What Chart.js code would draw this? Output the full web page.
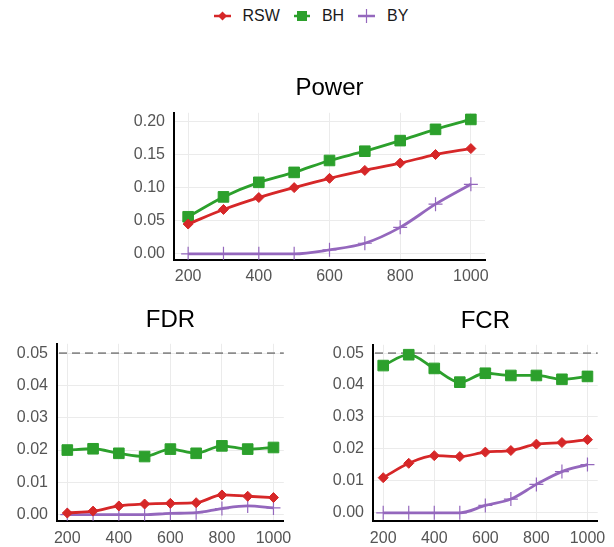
<!DOCTYPE html>
<html>
<head>
<meta charset="utf-8">
<script src="https://cdn.jsdelivr.net/npm/chart.js@4.4.0/dist/chart.umd.min.js"></script>
<style>
  body { margin: 0; width: 614px; height: 547px; background: #fff; position: relative; overflow: hidden;
         font-family: 'Liberation Sans', Arial, sans-serif; }
  canvas { position: absolute; }
  #legend { position: absolute; top: 7px; left: 4px; width: 614px; display: flex; justify-content: center;
            align-items: center; font-size: 16px; color: #1a1a1a; }
  .item { display: flex; align-items: center; margin: 0 7px; }
  .item svg { margin-right: 12px; }
</style>
</head>
<body>
<div id="legend">
  <div class="item">
    <svg width="17" height="12"><line x1="0" y1="6" x2="17" y2="6" stroke="#d62728" stroke-width="2.5"/><polygon points="8.5,1.5 13,6 8.5,10.5 4,6" fill="#d62728"/></svg>
    <span>RSW</span>
  </div>
  <div class="item">
    <svg width="16" height="12"><line x1="0" y1="6" x2="16" y2="6" stroke="#2ca02c" stroke-width="2.5"/><rect x="3" y="1" width="10" height="10" fill="#2ca02c"/></svg>
    <span>BH</span>
  </div>
  <div class="item">
    <svg width="17" height="16"><line x1="0" y1="8" x2="17" y2="8" stroke="#9467bd" stroke-width="2.5"/><line x1="8.5" y1="1" x2="8.5" y2="15" stroke="#9467bd" stroke-width="1.2"/></svg>
    <span>BY</span>
  </div>
</div>

<canvas id="power" width="390" height="223" style="left:110px;top:70px"></canvas>
<canvas id="fdr" width="300" height="256" style="left:0px;top:300px"></canvas>
<canvas id="fcr" width="304" height="256" style="left:310px;top:300px"></canvas>

<script>
// sample sizes (x axis)
const sampleSizes = [200, 300, 400, 500, 600, 700, 800, 900, 1000];
const xTicks = [200, 400, 600, 800, 1000];

// Power
const powerRSW = [0.045, 0.067, 0.085, 0.100, 0.114, 0.126, 0.137, 0.150, 0.159];
const powerBH  = [0.056, 0.086, 0.108, 0.123, 0.141, 0.155, 0.171, 0.188, 0.203];
const powerBY  = [0, 0, 0, 0, 0.006, 0.016, 0.040, 0.075, 0.105];
const powerTicks = [0, 0.05, 0.10, 0.15, 0.20];

// FDR
const fdrRSW = [0.0005, 0.0011, 0.0027, 0.0033, 0.0035, 0.0037, 0.0061, 0.0057, 0.0053];
const fdrBH  = [0.0200, 0.0204, 0.0190, 0.0180, 0.0203, 0.0190, 0.0213, 0.0203, 0.0208];
const fdrBY  = [0, 0, 0, 0, 0.0004, 0.0006, 0.0019, 0.0027, 0.0021];

// FCR
const fcrRSW = [0.0110, 0.0155, 0.0179, 0.0176, 0.0190, 0.0195, 0.0215, 0.0220, 0.0229];
const fcrBH  = [0.0461, 0.0495, 0.0452, 0.0409, 0.0437, 0.0430, 0.0430, 0.0418, 0.0427];
const fcrBY  = [0, 0, 0, 0, 0.0023, 0.0043, 0.0089, 0.0129, 0.0151];

const errTicks = [0, 0.01, 0.02, 0.03, 0.04, 0.05];
const nominalLevel = 0.05;

const FONT = "'Liberation Sans', Arial, sans-serif";
Chart.defaults.font.family = FONT;

const toPoints = vals => vals.map((v, i) => ({ x: sampleSizes[i], y: v }));

// dashed nominal-level line
const refLine = {
  id: 'refLine',
  beforeDatasetsDraw(chart, args, opts) {
    if (opts.value == null) return;
    const { ctx, chartArea } = chart;
    const y = chart.scales.y.getPixelForValue(opts.value);
    ctx.save();
    ctx.strokeStyle = '#8c8c8c';
    ctx.lineWidth = 1.6;
    ctx.setLineDash([8, 5]);
    ctx.beginPath();
    ctx.moveTo(chartArea.left + 2, y);
    ctx.lineTo(chartArea.right, y);
    ctx.stroke();
    ctx.restore();
  }
};

function makeChart(id, title, rsw, bh, by, yTicks, yMin, yMax, cfg) {
  return new Chart(document.getElementById(id), {
    type: 'line',
    data: {
      datasets: [
        {
          label: 'RSW', data: toPoints(rsw),
          borderColor: '#d62728', backgroundColor: '#d62728',
          borderWidth: 2.8, pointStyle: 'rectRot', pointRadius: 5,
          pointBorderWidth: 1, cubicInterpolationMode: 'monotone'
        },
        {
          label: 'BH', data: toPoints(bh),
          borderColor: '#2ca02c', backgroundColor: '#2ca02c',
          borderWidth: 2.8, pointStyle: 'rect', pointRadius: 7.5,
          pointBorderWidth: 1, cubicInterpolationMode: 'monotone'
        },
        {
          label: 'BY', data: toPoints(by),
          borderColor: '#9467bd', backgroundColor: '#9467bd',
          borderWidth: 2.8, pointStyle: 'cross', pointRadius: 7,
          pointBorderWidth: 1.2, cubicInterpolationMode: 'monotone'
        }
      ]
    },
    options: {
      responsive: false,
      animation: false,
      layout: { padding: { right: cfg.padRight, left: 0, top: 0, bottom: 0 } },
      plugins: {
        legend: { display: false },
        tooltip: { enabled: false },
        title: {
          display: true, text: title, fullSize: false, color: '#000',
          font: { size: 24, weight: 'normal' },
          padding: { top: cfg.titleTop, bottom: cfg.titleBottom }
        },
        refLine: { value: cfg.ref }
      },
      scales: {
        x: {
          type: 'linear', min: 160, max: 1040,
          afterBuildTicks: s => { s.ticks = xTicks.map(v => ({ value: v })); },
          grid: { color: '#ebebeb', drawTicks: false },
          border: { color: '#000', width: 2 },
          ticks: { color: '#555', font: { size: 16 }, padding: cfg.xPad, maxRotation: 0, callback: v => v }
        },
        y: {
          min: yMin, max: yMax,
          afterBuildTicks: s => { s.ticks = yTicks.map(v => ({ value: v })); },
          afterFit: s => { s.width = cfg.yWidth; },
          grid: { color: '#ebebeb', drawTicks: false },
          border: { color: '#000', width: 2 },
          ticks: { color: '#555', font: { size: 16 }, padding: 9, callback: v => v.toFixed(2) }
        }
      }
    },
    plugins: [refLine]
  });
}

makeChart('power', 'Power', powerRSW, powerBH, powerBY, powerTicks, -0.009, 0.213,
  { yWidth: 64, padRight: 15, titleTop: 4, titleBottom: 10, xPad: 7, ref: null });
makeChart('fdr', 'FDR', fdrRSW, fdrBH, fdrBY, errTicks, -0.0019, 0.0529,
  { yWidth: 57, padRight: 13, titleTop: 6, titleBottom: 9, xPad: 8, ref: nominalLevel });
makeChart('fcr', 'FCR', fcrRSW, fcrBH, fcrBY, errTicks, -0.0025, 0.0526,
  { yWidth: 63, padRight: 11, titleTop: 7, titleBottom: 9, xPad: 8, ref: nominalLevel });
</script>
</body>
</html>
